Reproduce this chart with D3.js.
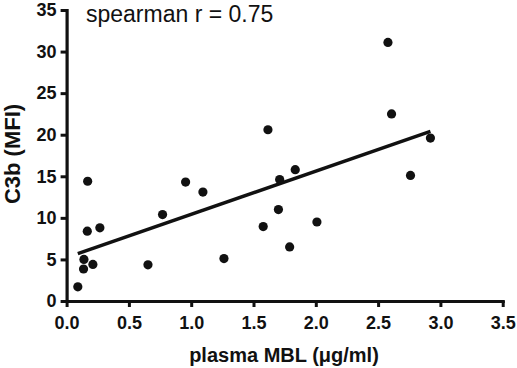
<!DOCTYPE html>
<html>
<head>
<meta charset="utf-8">
<script src="https://cdn.jsdelivr.net/npm/d3@7/dist/d3.min.js"></script>
<style>
  html, body { margin: 0; padding: 0; background: #fff; }
  svg { display: block; font-family: "Liberation Sans", Arial, Helvetica, sans-serif; }
</style>
</head>
<body>
<svg id="chart" width="517" height="368"></svg>
<script>
// Data
const mblValues = [0.09, 0.136, 0.139, 0.166, 0.169, 0.211, 0.267, 0.653, 0.77, 0.955, 1.094, 1.263,
                   1.578, 1.616, 1.70, 1.71, 1.79, 1.835, 2.009, 2.579, 2.608, 2.76, 2.92];
const c3bValues = [1.7, 3.85, 5.0, 8.4, 14.4, 4.4, 8.8, 4.35, 10.4, 14.3, 13.1, 5.1,
                   8.95, 20.6, 11.0, 14.6, 6.5, 15.8, 9.5, 31.1, 22.5, 15.1, 19.6];
const fitX = [0.09, 2.92];
const fitY = [5.7, 20.4];
const xTicks = [0, 0.5, 1.0, 1.5, 2.0, 2.5, 3.0, 3.5];
const yTicks = [0, 5, 10, 15, 20, 25, 30, 35];
const xTitle = "plasma MBL (\u03BCg/ml)";
const yTitle = "C3b (MFI)";
const annotation = "spearman r = 0.75";

const svg = d3.select("#chart");
const x = d3.scaleLinear().domain([0, 3.5]).range([66.6, 502.7]);
const y = d3.scaleLinear().domain([0, 35]).range([301, 10]);

// Axes
const xAxis = d3.axisBottom(x).tickValues(xTicks).tickFormat(d3.format(".1f"))
  .tickSize(6).tickSizeOuter(0).tickPadding(9);
const yAxis = d3.axisLeft(y).tickValues(yTicks).tickFormat(d3.format("d"))
  .tickSize(6).tickSizeOuter(0).tickPadding(4);

const gx = svg.append("g").attr("transform", `translate(0,${y(0)})`).call(xAxis);
const gy = svg.append("g").attr("transform", `translate(${x(0)},0)`).call(yAxis);

[gx, gy].forEach(g => {
  g.select(".domain").attr("stroke", "#111").attr("stroke-width", 3.2).attr("stroke-linecap", "square");
  g.selectAll(".tick line").attr("stroke", "#111").attr("stroke-width", 3);
  g.selectAll(".tick text").attr("fill", "#111").attr("font-size", 18).attr("font-weight", "bold");
});

// Regression line
svg.append("line")
  .attr("x1", x(fitX[0])).attr("y1", y(fitY[0]))
  .attr("x2", x(fitX[1])).attr("y2", y(fitY[1]))
  .attr("stroke", "#111").attr("stroke-width", 3.5);

// Points
svg.append("g").selectAll("circle")
  .data(mblValues.map((v, i) => [v, c3bValues[i]]))
  .join("circle")
  .attr("cx", d => x(d[0])).attr("cy", d => y(d[1]))
  .attr("r", 4.6).attr("fill", "#111");

// Titles
svg.append("text")
  .attr("x", 284).attr("y", 362)
  .attr("text-anchor", "middle")
  .attr("font-size", 20).attr("font-weight", "bold").attr("fill", "#111")
  .text(xTitle);

svg.append("text")
  .attr("transform", "translate(20,154) rotate(-90)")
  .attr("text-anchor", "middle")
  .attr("font-size", 22).attr("font-weight", "bold").attr("fill", "#111")
  .text(yTitle);

svg.append("text")
  .attr("x", 86).attr("y", 22)
  .attr("font-size", 23).attr("fill", "#111")
  .text(annotation);
</script>
</body>
</html>
